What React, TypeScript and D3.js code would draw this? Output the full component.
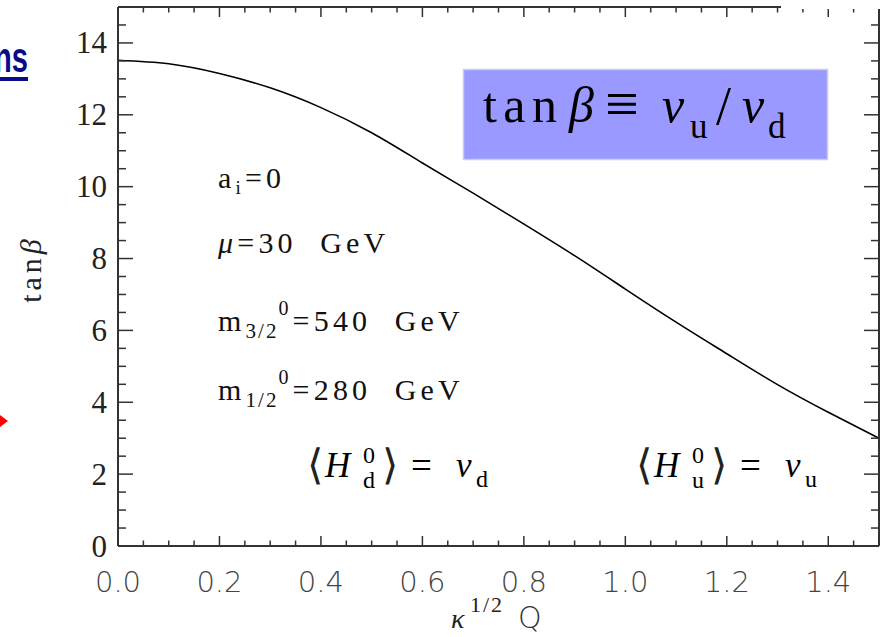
import React from "react";
import * as d3 from "d3";

// ---- data ----
const KAPPA_Q = [0, 0.1, 0.2, 0.3, 0.4, 0.5, 0.6, 0.7, 0.8, 0.9, 1.0, 1.1, 1.2, 1.3, 1.4, 1.5];
const TAN_BETA = [13.52, 13.42, 13.15, 12.75, 12.2, 11.5, 10.66, 9.82, 8.96, 8.08, 7.15, 6.23, 5.35, 4.49, 3.72, 3.0];
const X_MAJOR = [0, 0.2, 0.4, 0.6, 0.8, 1.0, 1.2, 1.4];
const X_LABELS = ["0.0", "0.2", "0.4", "0.6", "0.8", "1.0", "1.2", "1.4"];
const Y_MAJOR = [0, 2, 4, 6, 8, 10, 12, 14];
const Y_LABELS = ["0", "2", "4", "6", "8", "10", "12", "14"];

const W = 880;
const H = 637;
const L = 118, R = 879, T = 7, B = 546;
const SP2 = " \u00a0";

export default function App() {
  const x = d3.scaleLinear().domain([0, 1.5]).range([L, R]);
  const y = d3.scaleLinear().domain([0, 15]).range([B, T]);

  const xMinor = d3.range(0, 1.5001, 0.05).filter((v) => Math.abs(v / 0.2 - Math.round(v / 0.2)) > 1e-6);
  const yMinor = d3.range(0, 15.001, 0.5).filter((v) => Math.abs(v / 2 - Math.round(v / 2)) > 1e-6);

  const line = d3
    .line<number>()
    .x((_, i) => x(KAPPA_Q[i]))
    .y((d) => y(d))
    .curve(d3.curveNatural);

  const axisColor = "#333";
  const serif = "'Liberation Serif', serif";
  const sans = "'DejaVu Sans', sans-serif";

  const formula = (x0: number, sub: string) => (
    <g fontFamily={serif} fill="#000">
      <text x={x0} y={479} fontSize={42} fontFamily="'DejaVu Sans'" fontWeight={200} fill="#222">⟨</text>
      <text x={x0 + 18} y={477} fontSize={35} fontStyle="italic">H</text>
      <text x={x0 + 56} y={463} fontSize={24}>0</text>
      <text x={x0 + 56} y={488} fontSize={24}>{sub}</text>
      <text x={x0 + 75} y={479} fontSize={42} fontFamily="'DejaVu Sans'" fontWeight={200} fill="#222">⟩</text>
      <text x={x0 + 104} y={478} fontSize={37}>=</text>
      <text x={x0 + 149} y={477} fontSize={35} fontStyle="italic">v</text>
      <text x={x0 + 169} y={487} fontSize={24}>{sub}</text>
    </g>
  );

  return (
    <div style={{ position: "absolute", left: 0, top: 0 }}>
      <svg width={W} height={H} style={{ display: "block", background: "#fff" }}>
        <rect x={0} y={0} width={W} height={H} fill="#fff" />

        {/* partial title at left */}
        <text x={28} y={72} textAnchor="end" fontFamily="'Liberation Sans', sans-serif" fontWeight="bold" fontSize={42} fill="#0b0b8a" textLength={34} lengthAdjust="spacingAndGlyphs">ns</text>
        <rect x={0} y={77} width={28} height={4} fill="#0b0b8a" />
        {/* red arrow head */}
        <path d="M0,415 L8,421 L0,427 Z" fill="#ff0000" />

        {/* curve */}
        <path d={line(TAN_BETA) || ""} fill="none" stroke="#000" strokeWidth={1.6} />

        {/* axes frame */}
        <g stroke={axisColor} fill="none">
          <line x1={L} y1={T} x2={L} y2={B} strokeWidth={2} />
          <line x1={L} y1={B} x2={R} y2={B} strokeWidth={2} />
          <line x1={R} y1={T} x2={R} y2={B} strokeWidth={2} />
          <line x1={L} y1={T} x2={R} y2={T} strokeWidth={2} />
          {X_MAJOR.map((v) => (
            <g key={"xm" + v}>
              <line x1={x(v)} x2={x(v)} y1={B} y2={B - 10} strokeWidth={1.5} />
              <line x1={x(v)} x2={x(v)} y1={T} y2={T + 10} strokeWidth={1.5} />
            </g>
          ))}
          {xMinor.map((v) => (
            <g key={"xn" + v}>
              <line x1={x(v)} x2={x(v)} y1={B} y2={B - 5.5} strokeWidth={1.5} />
              <line x1={x(v)} x2={x(v)} y1={T} y2={T + 5.5} strokeWidth={1.5} />
            </g>
          ))}
          {Y_MAJOR.map((v) => (
            <g key={"ym" + v}>
              <line x1={L} x2={L + 15} y1={y(v)} y2={y(v)} strokeWidth={1.5} />
              <line x1={R} x2={R - 15} y1={y(v)} y2={y(v)} strokeWidth={1.5} />
            </g>
          ))}
          {yMinor.map((v) => (
            <g key={"yn" + v}>
              <line x1={L} x2={L + 8} y1={y(v)} y2={y(v)} strokeWidth={1.5} />
              <line x1={R} x2={R - 8} y1={y(v)} y2={y(v)} strokeWidth={1.5} />
            </g>
          ))}
        </g>
        {/* white patch at top right */}
        <rect x={781} y={0} width={99} height={9} fill="#fff" />

        {/* y tick labels */}
        {Y_MAJOR.map((v, i) => (
          <text key={"yl" + v} x={107} y={y(v)} dy="0.34em" textAnchor="end" fontFamily={serif} fontSize={31} fill="#222">
            {Y_LABELS[i]}
          </text>
        ))}
        {/* x tick labels */}
        {X_MAJOR.map((v, i) => (
          <text key={"xl" + v} x={x(v)} y={592} textAnchor="middle" fontFamily={sans} fontWeight={200} fontSize={29} fill="#444">
            {X_LABELS[i]}
          </text>
        ))}

        {/* axis titles */}
        <text transform="translate(41,269) rotate(-90)" textAnchor="middle" fontFamily={serif} fontSize={30} letterSpacing={4} fill="#222">
          tan<tspan fontStyle="italic">β</tspan>
        </text>
        <g fill="#222">
          <text x={451} y={628} fontFamily={serif} fontStyle="italic" fontSize={28}>κ</text>
          <text x={470} y={612} fontFamily={serif} fontSize={22} letterSpacing={2}>1/2</text>
          <text x={518} y={628} fontFamily={sans} fontWeight={200} fontSize={30} fill="#333">Q</text>
        </g>

        {/* parameter annotations */}
        <g fontFamily={serif} fill="#111" fontSize={30} letterSpacing={4.2}>
          <text x={218} y={188}>
            a<tspan fontSize={19} dy={6}>i</tspan><tspan dy={-6}>=0</tspan>
          </text>
          <text x={218} y={253}>
            <tspan fontStyle="italic">μ</tspan>{"=30" + SP2 + "GeV"}
          </text>
          <text x={218} y={331}>
            m<tspan fontSize={21} dy={7} letterSpacing={2}>3/2</tspan><tspan fontSize={20} dy={-23}>0</tspan><tspan dy={16}>{"=540" + SP2 + "GeV"}</tspan>
          </text>
          <text x={218} y={400}>
            m<tspan fontSize={21} dy={7} letterSpacing={2}>1/2</tspan><tspan fontSize={20} dy={-23}>0</tspan><tspan dy={16}>{"=280" + SP2 + "GeV"}</tspan>
          </text>
        </g>

        {/* definition box */}
        <rect x={463.5} y={69.5} width={364} height={90} fill="#9999ff" stroke="#c9c9f5" strokeWidth={1.5} />
        <g fontFamily={serif} fill="#000">
          <text x={483} y={122} fontSize={50} textLength={74} lengthAdjust="spacing">tan</text>
          <text x={569} y={122} fontSize={50} fontStyle="italic">β</text>
          <text x={605} y={124} fontSize={60}>≡</text>
          <text x={662} y={122} fontSize={50} fontStyle="italic">v</text>
          <text x={690} y={138} fontSize={35}>u</text>
          <text x={716} y={124} fontSize={54}>/</text>
          <text x={742} y={122} fontSize={50} fontStyle="italic">v</text>
          <text x={768} y={138} fontSize={35}>d</text>
        </g>

        {formula(307, "d")}
        {formula(636, "u")}
      </svg>
    </div>
  );
}
